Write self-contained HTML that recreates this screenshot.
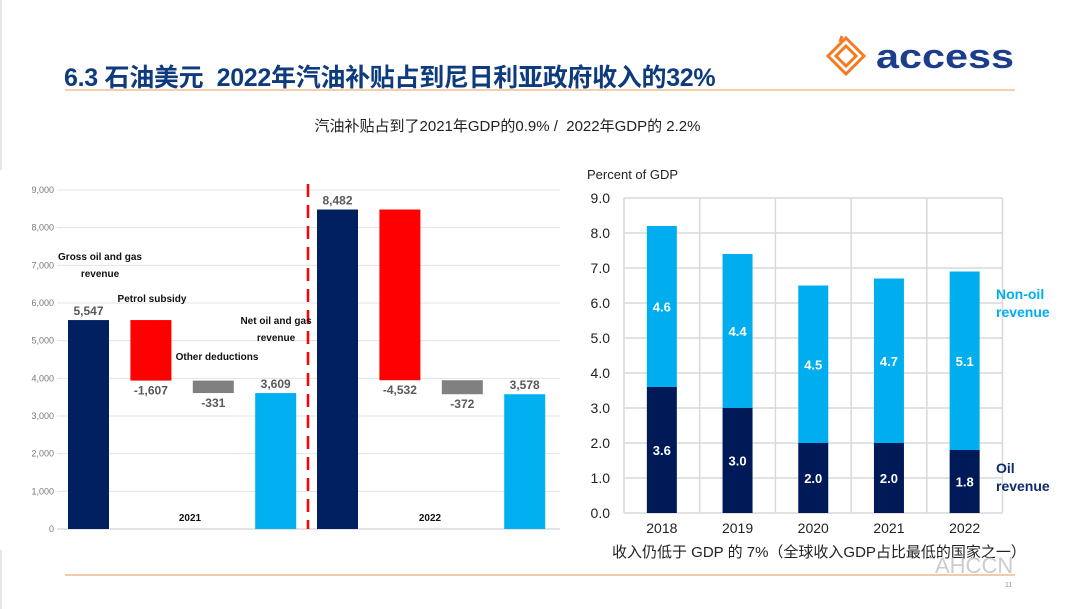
<!DOCTYPE html>
<html><head><meta charset="utf-8">
<style>
body{margin:0;width:1080px;height:609px;overflow:hidden;background:#fff;font-family:"Liberation Sans","Noto Sans CJK SC",sans-serif;position:relative}
.abs{position:absolute}
</style></head><body>
<div class="abs" style="left:0;top:0;width:2px;height:609px;background:#e6e6e6"></div>
<div class="abs" style="left:64px;top:58px;font-size:25px;font-weight:bold;color:#0d3b7d;white-space:nowrap;letter-spacing:-0.3px">6.3 石油美元&nbsp; 2022年汽油补贴占到尼日利亚政府收入的32%</div>
<div class="abs" style="left:65px;top:89px;width:950px;height:2px;background:#f6cfb0"></div>
<svg class="abs" style="left:820px;top:34px" width="200" height="50" viewBox="0 0 200 50">
<g fill="none" stroke="#f47b20" stroke-width="3"><path d="M26 4 L44 22 L26 40 L8 22 Z"/><path d="M26 12 L36 22 L26 32 L16 22 Z"/><path d="M22 2 L20 8"/></g>
<text x="56" y="34" font-family="Liberation Sans,sans-serif" font-size="34" font-weight="bold" fill="#1c3d8c" textLength="138" lengthAdjust="spacingAndGlyphs">access</text>
</svg>
<div class="abs" style="left:0;width:1015px;top:115px;text-align:center;font-size:15px;color:#222">汽油补贴占到了2021年GDP的0.9% /&nbsp; 2022年GDP的 2.2%</div>

<svg class="abs" id="left" style="left:0;top:170px" width="560" height="380"></svg>
<svg class="abs" id="right" style="left:560px;top:160px" width="520" height="420"></svg>

<div class="abs" style="left:612px;top:541px;font-size:15px;color:#222;white-space:nowrap">收入仍低于 GDP 的 7%（全球收入GDP占比最低的国家之一）</div>
<div class="abs" style="left:935px;top:553px;font-size:22px;color:#ccc;white-space:nowrap">AHCCN</div>
<div class="abs" style="left:65px;top:574px;width:950px;height:2px;background:#f6c9a6"></div>
<div class="abs" style="left:1005px;top:582px;font-size:7px;color:#999">11</div>

<script>
const NS='http://www.w3.org/2000/svg';
function mk(p,t,a,txt){const e=document.createElementNS(NS,t);for(const k in a)e.setAttribute(k,a[k]);if(txt!==undefined)e.textContent=txt;p.appendChild(e);return e;}

// Left waterfall data
const wfCats=['Gross 2021','Subsidy 2021','Other 2021','Net 2021','Gross 2022','Subsidy 2022','Other 2022','Net 2022'];
const wfValues=[5547,-1607,-331,3609,8482,-4532,-372,3578];
const wfKinds=['total','sub','other','net','total','sub','other','net'];
const wfTicks=[0,1000,2000,3000,4000,5000,6000,7000,8000,9000];

const L=document.getElementById('left');
const ly=v=>359-v*(339/9000);
const lx=i=>68+i*62.4+(i>=4?-0.6:0);
mk(L,'rect',{x:0,y:0,width:560,height:380,fill:'#fff'});
wfTicks.forEach(t=>{
  let g=mk(L,'line',{x1:57,x2:560,y1:ly(t),y2:ly(t),stroke:t===0?'#c8c8c8':'#e3e3e3','stroke-width':1});
  
  let tx=mk(L,'text',{x:54,y:ly(t)+3,'text-anchor':'end','font-size':9,fill:'#777'},t.toLocaleString('en-US'));
  
});
const colors={total:'#002060',sub:'#ff0000',other:'#808080',net:'#00b0f0'};
let run=0;
wfValues.forEach((v,i)=>{
  let top,bot;
  if(wfKinds[i]==='total'||wfKinds[i]==='net'){top=v;bot=0;run=v;}
  else{top=run;bot=run+v;run=bot;}
  const r=mk(L,'rect',{x:lx(i),y:ly(top),width:41,height:ly(bot)-ly(top),fill:colors[wfKinds[i]]});
  
  
  const lab=v.toLocaleString('en-US');
  const yy=v<0?ly(bot)+14:ly(top)-5;
  const t=mk(L,'text',{x:lx(i)+20.5,y:yy,'text-anchor':'middle','font-size':12,'font-weight':'bold',fill:'#595959'},lab);
  
});
const dl=mk(L,'line',{x1:308,x2:308,y1:14,y2:359,stroke:'#ff0000','stroke-width':2.5,'stroke-dasharray':'13,8'});

const anns=[['Gross oil and gas',100,90],['revenue',100,107],['Petrol subsidy',152,132],['Other deductions',217,190],['Net oil and gas',276,154],['revenue',276,171],['2021',190,351],['2022',430,351]];
anns.forEach(a=>{const t=mk(L,'text',{x:a[1],y:a[2],'text-anchor':'middle','font-size':10,'font-weight':'bold',fill:'#111'},a[0]);
  });

// Right stacked data
const years=['2018','2019','2020','2021','2022'];
const oilRev=[3.6,3.0,2.0,2.0,1.8];
const nonOilRev=[4.6,4.4,4.5,4.7,5.1];
const pctTicks=[0,1,2,3,4,5,6,7,8,9];

const R=document.getElementById('right');
const ry=v=>353-v*35;
const cw=75.7;const x0=64;
mk(R,'text',{x:27,y:19,'font-size':13,fill:'#222'},'Percent of GDP');
pctTicks.forEach(t=>{
  const g=mk(R,'line',{x1:x0,x2:x0+cw*5,y1:ry(t),y2:ry(t),stroke:'#d9d9d9','stroke-width':1.5});
  
  const tx=mk(R,'text',{x:50,y:ry(t)+5,'text-anchor':'end','font-size':14,fill:'#222'},t.toFixed(1));
  
});
for(let i=0;i<=5;i++){const g=mk(R,'line',{x1:x0+i*cw,x2:x0+i*cw,y1:ry(9),y2:ry(0),stroke:'#d9d9d9','stroke-width':1.5});
  }
years.forEach((y,i)=>{
  const cx=x0+cw*(i+0.5),bw=30;
  const o=mk(R,'rect',{x:cx-bw/2,y:ry(oilRev[i]),width:bw,height:ry(0)-ry(oilRev[i]),fill:'#001a57'});
  
  const tot=oilRev[i]+nonOilRev[i];
  const n=mk(R,'rect',{x:cx-bw/2,y:ry(tot),width:bw,height:ry(oilRev[i])-ry(tot),fill:'#00aeef'});
  
  const t1=mk(R,'text',{x:cx,y:ry(oilRev[i]/2)+5,'text-anchor':'middle','font-size':13,'font-weight':'bold',fill:'#fff'},oilRev[i].toFixed(1));
  
  const t2=mk(R,'text',{x:cx,y:ry(oilRev[i]+nonOilRev[i]/2)+5,'text-anchor':'middle','font-size':13,'font-weight':'bold',fill:'#fff'},nonOilRev[i].toFixed(1));
  
  const xl=mk(R,'text',{x:cx,y:373,'text-anchor':'middle','font-size':14,fill:'#222'},y);
  
});
[['Non-oil',139,'#00aeef'],['revenue',157,'#00aeef'],['Oil',313,'#0d2a6b'],['revenue',331,'#0d2a6b']].forEach(a=>{
  const t=mk(R,'text',{x:436,y:a[1],'font-size':14,'font-weight':'bold',fill:a[2]},a[0]);
  });
</script>
</body></html>
